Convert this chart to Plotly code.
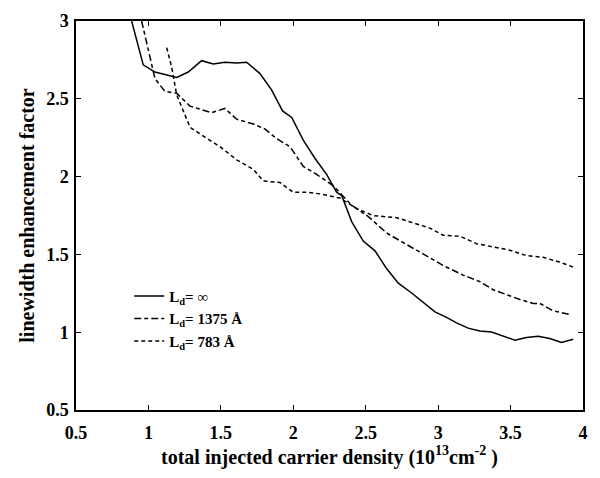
import plotly.graph_objects as go

# total injected carrier density (1e13 cm^-2) and linewidth enhancement factor
x_inf = [0.884, 0.964, 1.045, 1.195, 1.275, 1.367, 1.448, 1.528, 1.609, 1.678, 1.77, 1.85, 1.926,
         1.989, 2.069, 2.149, 2.23, 2.299, 2.334, 2.403, 2.483, 2.564, 2.644, 2.725, 2.817, 2.897,
         2.978, 3.058, 3.127, 3.207, 3.288, 3.369, 3.449, 3.53, 3.61, 3.69, 3.771, 3.852, 3.932]
y_inf = [3.0, 2.718, 2.672, 2.637, 2.672, 2.745, 2.724, 2.735, 2.73, 2.735, 2.662, 2.557, 2.422,
         2.38, 2.234, 2.118, 2.014, 1.9, 1.878, 1.711, 1.586, 1.523, 1.409, 1.315, 1.252, 1.189,
         1.131, 1.095, 1.06, 1.026, 1.008, 1.001, 0.974, 0.949, 0.966, 0.974, 0.959, 0.934, 0.955]

x_1375 = [0.953, 0.988, 1.022, 1.045, 1.114, 1.195, 1.287, 1.436, 1.528, 1.609, 1.724, 1.804,
          1.885, 1.977, 2.069, 2.161, 2.276, 2.403, 2.518, 2.644, 2.759, 2.897, 3.034, 3.172,
          3.288, 3.38, 3.472, 3.564, 3.656, 3.702, 3.794, 3.921]
y_1375 = [3.0, 2.86, 2.714, 2.63, 2.547, 2.536, 2.453, 2.411, 2.438, 2.369, 2.338, 2.306,
          2.244, 2.192, 2.066, 2.014, 1.941, 1.816, 1.743, 1.638, 1.576, 1.502, 1.429, 1.367,
          1.325, 1.273, 1.241, 1.21, 1.185, 1.185, 1.137, 1.112]

x_783 = [1.126, 1.16, 1.195, 1.23, 1.287, 1.39, 1.494, 1.609, 1.724, 1.793, 1.908, 2.0, 2.103,
         2.184, 2.322, 2.437, 2.552, 2.713, 2.828, 2.943, 3.034, 3.15, 3.265, 3.38, 3.495,
         3.61, 3.725, 3.84, 3.932]
y_783 = [2.829, 2.704, 2.526, 2.442, 2.317, 2.254, 2.192, 2.108, 2.046, 1.972, 1.962, 1.899, 1.899,
         1.889, 1.862, 1.795, 1.749, 1.736, 1.701, 1.669, 1.623, 1.617, 1.569, 1.548, 1.527,
         1.492, 1.481, 1.45, 1.419]

names = ["L<sub>d</sub>= ∞", "L<sub>d</sub>= 1375 Å", "L<sub>d</sub>= 783 Å"]
x_ticks = [0.5, 1, 1.5, 2, 2.5, 3, 3.5, 4]
y_ticks = [0.5, 1, 1.5, 2, 2.5, 3]

FONT = "Liberation Serif"

fig = go.Figure()
fig.add_trace(go.Scatter(x=x_inf, y=y_inf, mode="lines", name=names[0],
                         line=dict(color="black", width=1.5)))
fig.add_trace(go.Scatter(x=x_1375, y=y_1375, mode="lines", name=names[1],
                         line=dict(color="black", width=1.5, dash="7px,3px,4px,3px")))
fig.add_trace(go.Scatter(x=x_783, y=y_783, mode="lines", name=names[2],
                         line=dict(color="black", width=1.5, dash="4px,3px")))

axis_common = dict(showline=True, linecolor="black", linewidth=1.5, mirror="ticks",
                   ticks="inside", ticklen=5, tickcolor="black", tickwidth=1,
                   showgrid=False, zeroline=False,
                   tickfont=dict(family=FONT, size=18, color="black", weight="bold"))

fig.update_xaxes(range=[0.5, 4], tickvals=x_ticks, ticktext=[f"{v:g}" for v in x_ticks],
                 ticklabelstandoff=6,
                 title=dict(text="total injected carrier density (10<sup>13</sup>cm<sup>-2</sup> )",
                            font=dict(family=FONT, size=20, color="black", weight="bold"),
                            standoff=4),
                 **axis_common)
fig.update_yaxes(range=[0.5, 3], tickvals=y_ticks, ticktext=[f"{v:g}" for v in y_ticks],
                 ticklabelstandoff=2,
                 title=dict(text="linewidth enhancement factor",
                            font=dict(family=FONT, size=20, color="black", weight="bold"),
                            standoff=6),
                 **axis_common)

fig.update_layout(
    width=600, height=478,
    margin=dict(l=76, r=17, t=11, b=68),
    plot_bgcolor="white", paper_bgcolor="white",
    showlegend=True,
    legend=dict(x=0.105, y=0.335, xanchor="left", yanchor="top",
                bgcolor="rgba(0,0,0,0)", borderwidth=0,
                font=dict(family=FONT, size=15, color="black", weight="bold"),
                itemwidth=30, tracegroupgap=0),
)

fig.write_html("out.html")
